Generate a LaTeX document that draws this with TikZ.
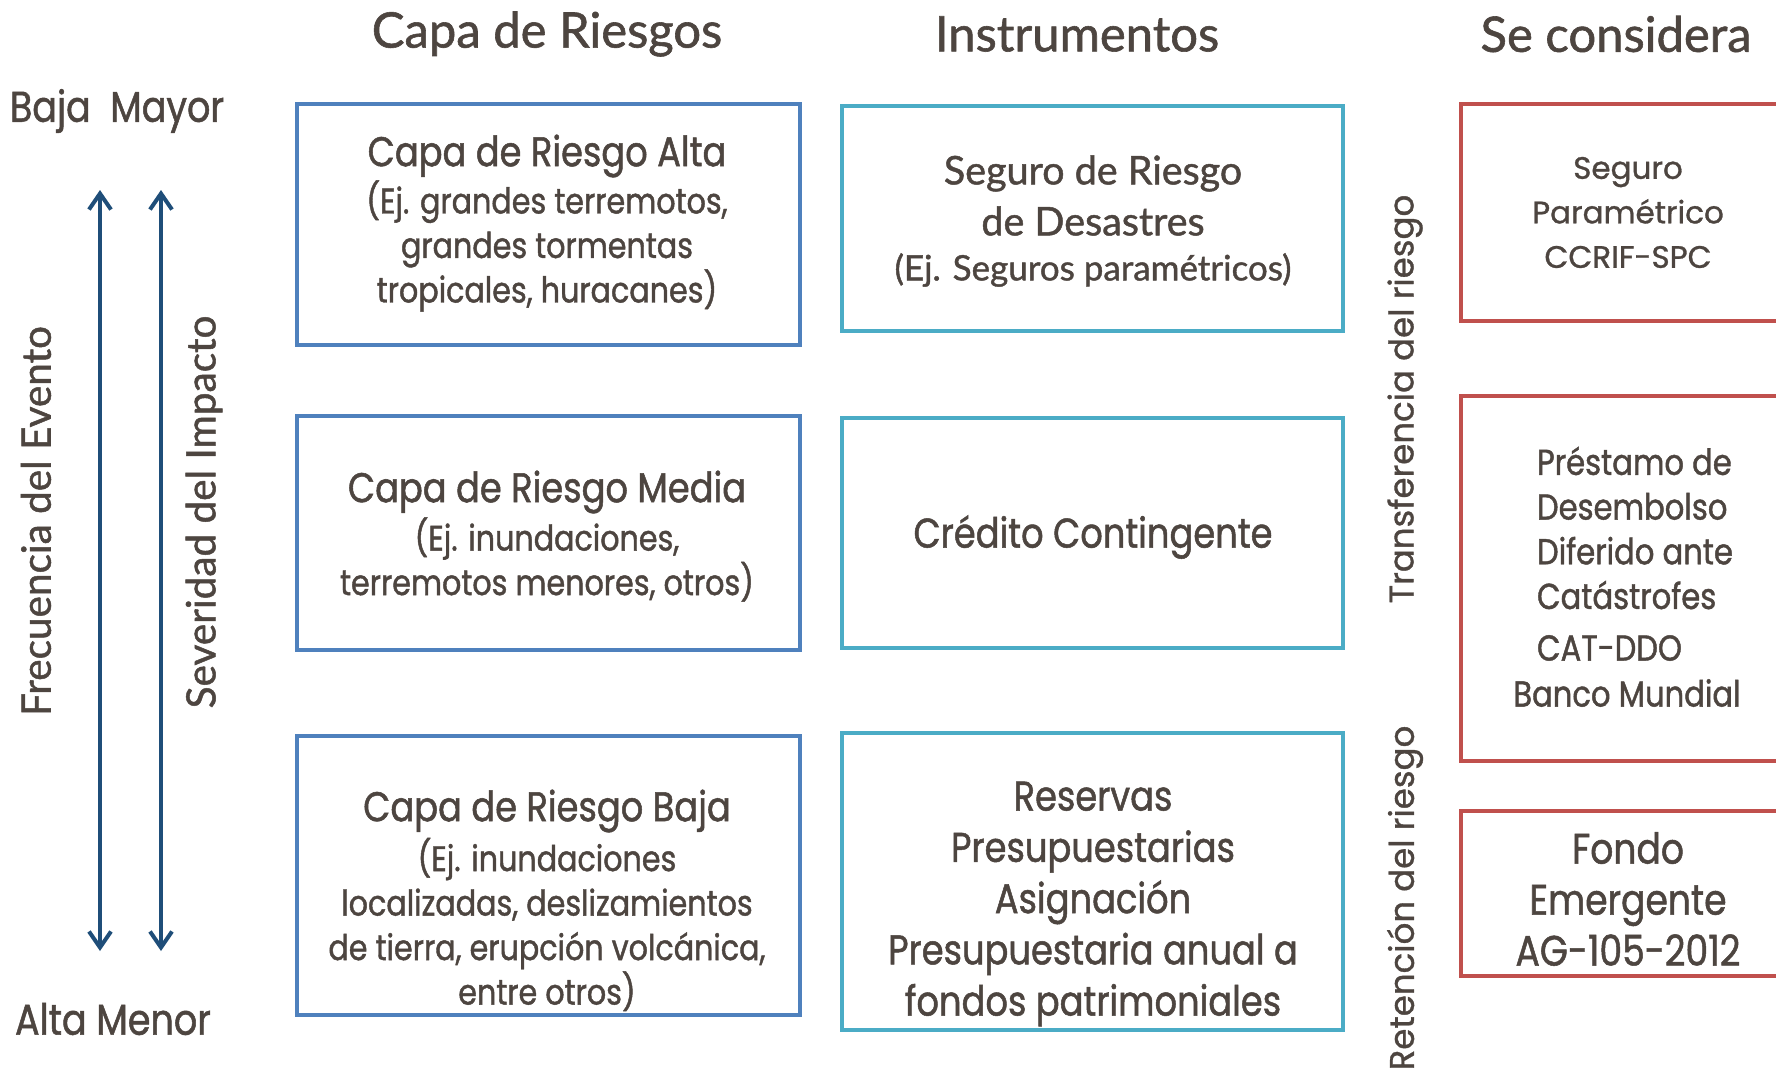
\documentclass[tikz,border=0pt]{standalone}
\usepackage{fontspec}
\setmainfont{Lato}
\newfontfamily\gill{Lato}[FakeBold=1.2]
\newfontfamily\cg{Poppins}[FakeBold=1.0]
\newfontfamily\tw{Poppins}[FakeStretch=0.85,FakeBold=1.2]
\usetikzlibrary{arrows.meta}
\definecolor{txt}{HTML}{4D4540}
\definecolor{bleft}{HTML}{4F81BD}
\definecolor{bmid}{HTML}{4BACC6}
\definecolor{bright}{HTML}{C0504D}
\definecolor{arr}{HTML}{1F4E79}
\begin{document}
\begin{tikzpicture}[x=1pt,y=-1pt,
  every node/.style={text=txt, inner sep=0pt, outer sep=0pt},
  frame/.style={draw=#1, line width=4.5pt, rectangle},
  ttl/.style={font=\gill\fontsize{49}{52}\selectfont},
  head/.style={font=\tw\fontsize{41.5}{45}\selectfont, align=center},
  sub/.style={font=\tw\fontsize{35.5}{44.5}\selectfont, align=center},
  big/.style={font=\tw\fontsize{41.5}{51.25}\selectfont, align=center},
  rot/.style={rotate=90},
  axis/.style={draw=arr, line width=4pt, {Straight Barb[length=16pt,width=22pt,line width=4pt]}-{Straight Barb[length=16pt,width=22pt,line width=4pt]}}
]
\useasboundingbox (0,0) rectangle (1776,1071);
\clip (0,0) rectangle (1776,1071);

% titles
\node[ttl] (t1) at (547,34) {Capa de Riesgos};
\node[ttl] (t2) at (1077,34) {Instrumentos};
\node[ttl] (t3) at (1616,34) {Se considera};

% side labels
\node[font=\tw\fontsize{43}{45}\selectfont] (baja) at (117,111) {Baja\ \ Mayor};
\node[font=\tw\fontsize{43}{45}\selectfont] (alta) at (113,1019) {Alta Menor};
\node[rot, font=\gill\fontsize{40.5}{42}\selectfont] (frec) at (36,521) {Frecuencia del Evento};
\node[rot, font=\gill\fontsize{40.5}{42}\selectfont] (sev) at (204,512) {Severidad del Impacto};
\node[rot, font=\cg\fontsize{34}{36}\selectfont] (trans) at (1405,399) {Transferencia del riesgo};
\node[rot, font=\cg\fontsize{34}{36}\selectfont] (ret) at (1405,898) {Retención del riesgo};

% arrows
\coordinate (a1t) at (100,190);
\coordinate (a1b) at (100,951);
\coordinate (a2t) at (161,190);
\coordinate (a2b) at (161,951);
\draw[axis] (a1t) -- (a1b);
\draw[axis] (a2t) -- (a2b);

% left column
\node[frame=bleft, minimum width=503pt, minimum height=241pt] (L1) at (548.5,224.5) {};
\node[head] (L1h) at (547,156) {Capa de Riesgo Alta};
\node[sub] (L1s) at (547,246) {(Ej. grandes terremotos,\\grandes tormentas\\tropicales, huracanes)};

\node[frame=bleft, minimum width=503pt, minimum height=234pt] (L2) at (548.5,533) {};
\node[head] (L2h) at (547,492) {Capa de Riesgo Media};
\node[sub] (L2s) at (547,559.5) {(Ej. inundaciones,\\terremotos menores, otros)};

\node[frame=bleft, minimum width=503pt, minimum height=279pt] (L3) at (548.5,875.5) {};
\node[head] (L3h) at (547,811) {Capa de Riesgo Baja};
\node[sub] (L3s) at (547,924.5) {(Ej. inundaciones\\localizadas, deslizamientos\\de tierra, erupción volcánica,\\entre otros)};

% middle column
\node[frame=bmid, minimum width=501pt, minimum height=225pt] (M1) at (1092.5,218.5) {};
\node[font=\gill\fontsize{39.5}{51}\selectfont, align=center] (M1h) at (1093,195.5) {Seguro de Riesgo\\de Desastres};
\node[font=\gill\fontsize{35}{38}\selectfont] (M1s) at (1093,270) {(Ej. Seguros paramétricos)};

\node[frame=bmid, minimum width=501pt, minimum height=230pt] (M2) at (1092.5,533) {};
\node[big] (M2t) at (1093,537) {Crédito Contingente};

\node[frame=bmid, minimum width=501pt, minimum height=297pt] (M3) at (1092.5,881.5) {};
\node[big] (M3t) at (1093,904) {Reservas\\Presupuestarias\\Asignación\\Presupuestaria anual a\\fondos patrimoniales};

% right column
\node[frame=bright, minimum width=330pt, minimum height=217pt] (R1) at (1626,212.5) {};
\node[font=\cg\fontsize{31}{44.5}\selectfont, align=center] (R1t) at (1628,212.5) {Seguro\\Paramétrico\\CCRIF-SPC};

\node[frame=bright, minimum width=330pt, minimum height=365pt] (R2) at (1626,578.5) {};
\node[font=\tw\fontsize{36}{44.7}\selectfont, align=left, anchor=west] (R2a) at (1537,528) {Préstamo de\\Desembolso\\Diferido ante\\Catástrofes};
\node[font=\tw\fontsize{36}{44.7}\selectfont, anchor=west] (R2b) at (1537,648) {CAT-DDO};
\node[font=\tw\fontsize{36}{44.7}\selectfont] (R2c) at (1627,693) {Banco Mundial};

\node[frame=bright, minimum width=330pt, minimum height=165pt] (R3) at (1626,893.5) {};
\node[font=\tw\fontsize{42.5}{51}\selectfont, align=center] (R3t) at (1628,899) {Fondo\\Emergente\\AG-105-2012};
\end{tikzpicture}
\end{document}
